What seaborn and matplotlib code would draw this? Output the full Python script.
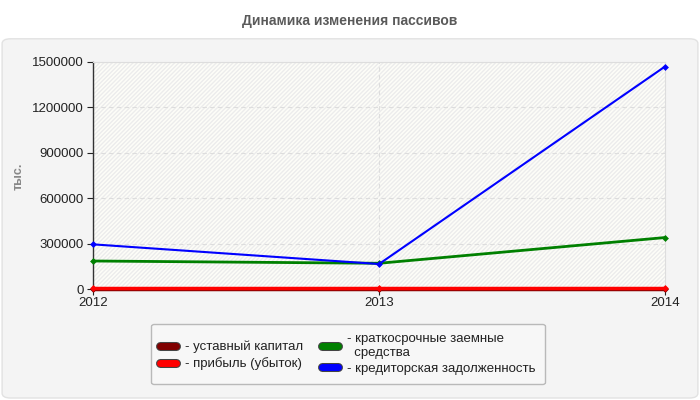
import pandas as pd
import numpy as np
import matplotlib.pyplot as plt
import matplotlib.patheffects as pe
import seaborn as sns
from matplotlib.patches import FancyBboxPatch, Rectangle
from matplotlib.lines import Line2D

# data
years = [2012, 2013, 2014]
ustavnyi = [10, 10, 10]
pribyl = [5000, 5000, 5000]
kratkosrochnye = [185000, 170000, 340000]
kreditorskaya = [295000, 165000, 1470000]

labels = [
    "- уставный капитал",
    "- прибыль (убыток)",
    "- краткосрочные заемные\n  средства",
    "- кредиторская задолженность",
]
colors = ["#800000", "#ff0000", "#008000", "#0000ff"]
y_ticks = [0, 300000, 600000, 900000, 1200000, 1500000]

df = pd.DataFrame({
    "year": years * 4,
    "value": ustavnyi + pribyl + kratkosrochnye + kreditorskaya,
    "series": [labels[0]] * 3 + [labels[1]] * 3 + [labels[2]] * 3 + [labels[3]] * 3,
})

sns.set_style("white")
plt.rcParams["font.family"] = ["Liberation Sans", "DejaVu Sans"]

fig = plt.figure(figsize=(7, 4), dpi=100)
fig.patch.set_facecolor("white")

# grey panel behind the chart
panel = FancyBboxPatch((0.003, 0.005), 0.994, 0.898,
                       boxstyle="round,pad=0,rounding_size=0.012",
                       transform=fig.transFigure, facecolor="#f4f4f4",
                       edgecolor="#e2e2e2", linewidth=1, zorder=-5)
fig.patches.append(panel)

fig.text(0.5, 0.948, "Динамика изменения пассивов", ha="center", va="center",
         fontsize=10, fontweight="bold", color="#5a5a5a")

ax = fig.add_axes([0.133, 0.2775, 0.817, 0.5675])
ax.set_zorder(2)
ax.set_facecolor("#fdfdf8")
ax.add_patch(Rectangle((0, 0), 1, 1, transform=ax.transAxes, facecolor="none",
                       hatch="////////", edgecolor="#ececec", linewidth=0, zorder=0))

sns.lineplot(data=df, x="year", y="value", hue="series", palette=colors,
             marker="D", markersize=3.5, markeredgewidth=0, linewidth=1.6,
             ax=ax, legend=False, zorder=3)
for line, lw in zip(ax.lines[:4], [2.5, 2.5, 2.0, 1.5]):
    line.set_linewidth(lw)
    line.set_clip_on(False)

ax.set_xlim(2012, 2014)
ax.set_ylim(0, 1500000)
ax.set_xticks(years)
ax.set_xticklabels([str(y) for y in years])
ax.set_yticks(y_ticks)
ax.set_yticklabels([str(v) for v in y_ticks])
ax.tick_params(axis="both", labelsize=9.5, colors="#222222", length=4, width=0.8,
               left=True, bottom=True, direction="out")
ax.tick_params(axis="x", pad=2)
ax.tick_params(axis="y", pad=3)

ax.grid(True, axis="y", linestyle=(0, (4, 3)), color="#dddddd", linewidth=0.8)
ax.axvline(2013, linestyle=(0, (4, 3)), color="#dddddd", linewidth=0.8, zorder=1)
ax.set_axisbelow(True)

for side in ["top", "right"]:
    ax.spines[side].set_color("#dddddd")
for side in ["left", "bottom"]:
    ax.spines[side].set_color("#333333")
    ax.spines[side].set_linewidth(1)

ax.set_xlabel("")
ax.set_ylabel("")
fig.text(0.027, 0.56, "тыс.", rotation=90, ha="center", va="center",
         fontsize=9, color="#888888", fontweight="bold")

handles = [Line2D([], [], color=c, linewidth=5, solid_capstyle="round",
                  path_effects=[pe.Stroke(linewidth=6.5, foreground="#444444"), pe.Normal()])
           for c in colors]
leg = fig.legend(handles, labels, loc="center", bbox_to_anchor=(0.497, 0.115),
                 ncol=2, fontsize=9.5, frameon=True, fancybox=True,
                 handlelength=1.2, handletextpad=0.7,
                 columnspacing=1.4, labelspacing=0.3, borderpad=0.7)
leg.get_frame().set_facecolor("#f9f9f9")
leg.get_frame().set_edgecolor("#aaaaaa")
for t in leg.get_texts():
    t.set_color("#222222")

fig.savefig("out.png", dpi=100)
